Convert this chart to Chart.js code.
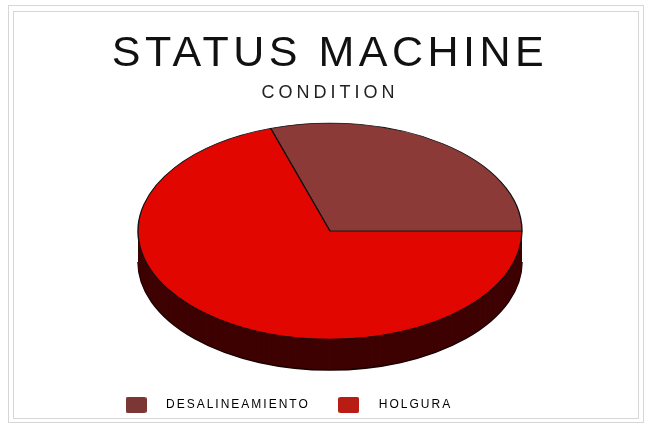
<!DOCTYPE html>
<html>
<head>
<meta charset="utf-8">
<script src="https://cdn.jsdelivr.net/npm/chart.js@4.4.0/dist/chart.umd.min.js"></script>
<style>
  html, body { margin: 0; padding: 0; background: #fff; }
  #wrap { position: relative; width: 648px; height: 426px; }
  .frame { position: absolute; border: 1px solid #d6d6d6; }
  #outer { left: 8px; top: 5px; width: 634px; height: 416px; }
  #inner { left: 13px; top: 11px; width: 624px; height: 406px; }
  canvas { position: absolute; left: 0; top: 0; }
</style>
</head>
<body>
<div id="wrap">
  <div class="frame" id="outer"></div>
  <div class="frame" id="inner"></div>
  <canvas id="myChart" width="648" height="426"></canvas>
</div>
<script>
const etiquetas = ['DESALINEAMIENTO', 'HOLGURA'];
const porcentajes = [30, 70];
const tituloTexto = 'STATUS MACHINE';
const subtituloTexto = 'CONDITION';

const coresTopo = ['#8c3a38', '#e20600'];
const coresLegenda = ['#7a3733', '#b81c12'];

const ctx = document.getElementById('myChart').getContext('2d');

// caixinha da legenda desenhada num canvas pequeno (usado como pointStyle)
function caixaLegenda(cor) {
  const c = document.createElement('canvas');
  c.width = 21;
  c.height = 16;
  const g = c.getContext('2d');
  g.fillStyle = cor;
  g.beginPath();
  g.roundRect(0, 0, 21, 16, 2);
  g.fill();
  return c;
}

// espaçamento entre letras, o original tem texto bem largo
const espacamento = {
  id: 'espacamento',
  afterInit(chart) {
    chart.boxes.forEach(box => {
      const escolhe = () => {
        if (box === chart.legend) return '2px';
        if (box === chart.titleBlock) return '4.5px';
        if (box.options && box.options.text === subtituloTexto) return '4px';
        return '0px';
      };
      ['update', 'draw'].forEach(nome => {
        const orig = box[nome].bind(box);
        box[nome] = function(...args) {
          const c = chart.ctx;
          const antes = c.letterSpacing;
          c.letterSpacing = escolhe();
          const r = orig(...args);
          c.letterSpacing = antes || '0px';
          return r;
        };
      });
    });
  }
};

// pizza "3D": achata o círculo numa elipse e empilha camadas escuras embaixo
const pizza3d = {
  id: 'pizza3d',
  beforeDatasetsDraw(chart, args, opts) {
    const c = chart.ctx;
    const arcos = chart.getDatasetMeta(0).data;
    const a0 = arcos[0];
    const sx = opts.rx / a0.outerRadius;
    const sy = opts.ry / a0.outerRadius;
    const achata = (dy) => {
      c.translate(a0.x, a0.y + opts.shiftY + dy);
      c.scale(sx, sy);
      c.translate(-a0.x, -a0.y);
    };

    for (let d = opts.depth; d > 0; d--) {
      c.save();
      achata(d);
      c.fillStyle = opts.sideColor;
      arcos.forEach(a => {
        c.beginPath();
        c.moveTo(a.x, a.y);
        c.arc(a.x, a.y, a.outerRadius, a.startAngle, a.endAngle);
        c.closePath();
        c.fill();
      });
      if (d === opts.depth) {
        c.beginPath();
        c.arc(a0.x, a0.y, a0.outerRadius, 0, Math.PI);
        c.restore();
        c.strokeStyle = opts.edgeColor;
        c.lineWidth = 1.5;
        c.stroke();
      } else {
        c.restore();
      }
    }
    c.save();
    achata(0);
  },
  afterDatasetsDraw(chart) {
    chart.ctx.restore();
  }
};

new Chart(ctx, {
  type: 'pie',
  data: {
    labels: etiquetas,
    datasets: [{
      data: porcentajes,
      backgroundColor: coresTopo,
      borderColor: '#111',
      borderWidth: 1
    }]
  },
  options: {
    responsive: false,
    animation: false,
    events: [],
    rotation: -18,
    layout: {
      padding: { top: 10, left: 97, right: 85, bottom: 5 }
    },
    plugins: {
      title: {
        display: true,
        text: tituloTexto,
        color: '#111',
        font: { family: 'Liberation Sans', size: 43, weight: 'normal' },
        padding: { top: 18, bottom: 0 }
      },
      subtitle: {
        display: true,
        text: subtituloTexto,
        color: '#222',
        font: { family: 'Liberation Sans', size: 18, weight: 'normal' },
        padding: { top: 3, bottom: 0 }
      },
      legend: {
        position: 'bottom',
        align: 'start',
        labels: {
          usePointStyle: true,
          pointStyleWidth: 48,
          padding: 15,
          color: '#333',
          font: { family: 'Liberation Sans', size: 12 },
          generateLabels: (chart) => etiquetas.map((t, i) => ({
            text: t,
            fillStyle: coresLegenda[i],
            strokeStyle: coresLegenda[i],
            lineWidth: 0,
            pointStyle: caixaLegenda(coresLegenda[i]),
            hidden: false,
            index: i
          }))
        }
      },
      tooltip: { enabled: false },
      pizza3d: {
        rx: 192,
        ry: 108,
        depth: 31,
        shiftY: -13,
        sideColor: '#3e0202',
        edgeColor: '#1a0000'
      }
    }
  },
  plugins: [espacamento, pizza3d]
});
</script>
</body>
</html>
